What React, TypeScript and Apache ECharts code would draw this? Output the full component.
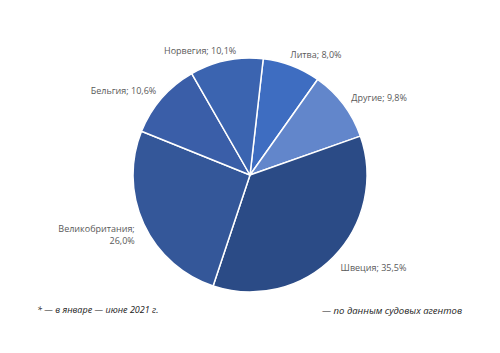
import React, { useEffect, useRef } from "react";
import * as echarts from "echarts";

const categories = ["Литва", "Другие", "Швеция", "Великобритания", "Бельгия", "Норвегия"];
const values = [8.0, 9.8, 35.5, 26.0, 10.6, 10.1];
const colors = ["#3e6dc1", "#6286cb", "#2b4b86", "#345799", "#3a5ea8", "#3b64b0"];
const footLeft = "* — в январе — июне 2021 г.";
const footRight = "— по данным судовых агентов";

// fine label nudges (pixels) per slice index, layout only
const nudges: [number, number][] = [[-10, -2], [-5, -1], [-5, 4], [5, 6], [7, -1], [17, 0]];

export default function App() {
  const ref = useRef<HTMLDivElement>(null);
  useEffect(() => {
    document.body.style.margin = "0";
    const chart = echarts.init(ref.current!, null, { renderer: "svg" });
    chart.setOption({
      animation: false,
      backgroundColor: "#ffffff",
      series: [
        {
          type: "pie",
          center: [250, 175],
          radius: 117,
          startAngle: 83.5,
          clockwise: true,
          avoidLabelOverlap: false,
          itemStyle: { borderColor: "#ffffff", borderWidth: 1.5 },
          label: {
            show: true,
            position: "outside",
            fontFamily: "Open Sans",
            fontSize: 9,
            color: "#595959",
            lineHeight: 12,
            align: "center",
            formatter: (p: any) => {
              const v = Number(p.value).toFixed(1).replace(".", ",") + "%";
              return p.name.length > 10 ? `${p.name};\n${v}` : `${p.name}; ${v}`;
            },
          },
          labelLine: { show: false, length: 10, length2: 0 },
          labelLayout: (p: any) => ({ dx: nudges[p.dataIndex][0], dy: nudges[p.dataIndex][1] }),
          data: categories.map((c, i) => ({ name: c, value: values[i], itemStyle: { color: colors[i] } })),
        },
      ],
      graphic: [
        {
          type: "text",
          left: 37,
          top: 305,
          style: { text: footLeft, fontFamily: "Open Sans", fontStyle: "italic", fontSize: 9, fill: "#222" },
        },
        {
          type: "text",
          right: 38,
          top: 305,
          style: { text: footRight, fontFamily: "Open Sans", fontStyle: "italic", fontSize: 9.5, fill: "#222" },
        },
      ],
    });
    return () => chart.dispose();
  }, []);
  return <div ref={ref} style={{ width: 500, height: 353 }} />;
}
